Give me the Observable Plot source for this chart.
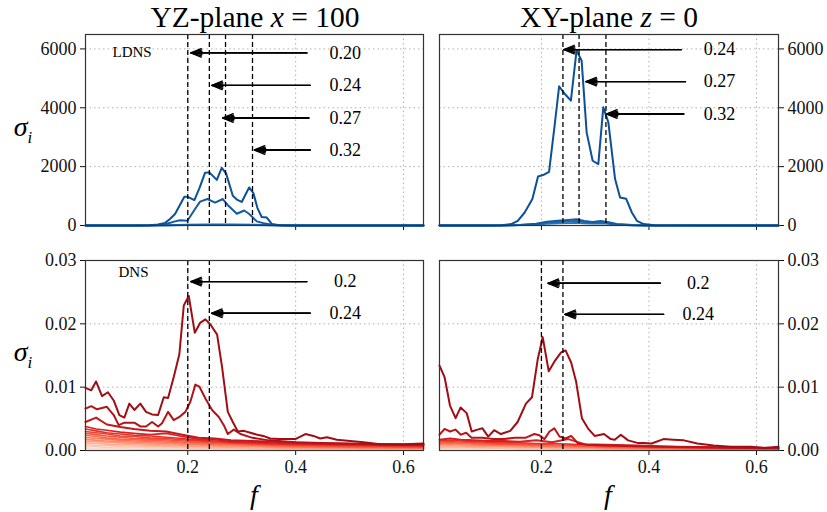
<!DOCTYPE html>
<html><head><meta charset="utf-8">
<script src="https://cdn.jsdelivr.net/npm/d3@7"></script>
<script src="https://cdn.jsdelivr.net/npm/@observablehq/plot@0.6"></script>
<style>
body{margin:0;background:#fff;}
#chart{position:relative;width:827px;height:512px;overflow:hidden;background:#fff;}
#chart svg{position:absolute;left:0;top:0;}
.lbl{position:absolute;font-family:"Liberation Serif",serif;color:#000;white-space:nowrap;line-height:1;}
</style></head><body><div id="chart"></div>
<script>
// ---------- shared axes ----------
const xTicks = [0.2, 0.4, 0.6];
const ldnsYTicks = [0, 2000, 4000, 6000];
const dnsYTicks = [0, 0.01, 0.02, 0.03];

// ---------- LDNS, YZ-plane ----------
const tlF1 = [0.0104, 0.08, 0.11, 0.13, 0.145, 0.158, 0.167, 0.1764, 0.1937, 0.2, 0.2123, 0.222, 0.232, 0.240, 0.2538, 0.263, 0.271, 0.2835, 0.292, 0.300, 0.3137, 0.3217, 0.329, 0.337, 0.3466, 0.356, 0.37, 0.40, 0.637];
const tlS1 = [0, 0, 3, 12, 35, 90, 220, 390, 980, 975, 865, 1290, 1790, 1805, 1550, 1960, 1770, 1010, 870, 800, 1293, 1100, 600, 290, 270, 50, 8, 0, 0];
const tlF2 = [0.0104, 0.10, 0.14, 0.16, 0.1764, 0.1857, 0.1993, 0.2135, 0.2228, 0.2364, 0.2506, 0.265, 0.2753, 0.291, 0.3045, 0.314, 0.328, 0.340, 0.359, 0.38, 0.637];
const tlS2 = [0, 0, 10, 50, 140, 180, 160, 560, 810, 900, 780, 900, 670, 400, 510, 390, 140, 80, 15, 0, 0];
const tlF3 = [0.0104, 0.12, 0.16, 0.20, 0.24, 0.28, 0.32, 0.36, 0.40, 0.637];
const tlS3 = [0, 2, 10, 25, 35, 30, 25, 10, 2, 0];
const tlS4 = [0, 1, 5, 12, 18, 15, 12, 5, 1, 0];
const tlMarkF = [0.20, 0.24, 0.27, 0.32];
const tlArrowY = [5864, 4762, 3653, 2565];
const tlArrowTail = [0.4208, 0.4269, 0.4245, 0.4269];
const tlArrowHead = [0.2056, 0.2445, 0.265, 0.3236];
const tlLabels = ["0.20", "0.24", "0.27", "0.32"];

// ---------- LDNS, XY-plane ----------
const trF1 = [0.0104, 0.10, 0.125, 0.144, 0.156, 0.1688, 0.1832, 0.1937, 0.203, 0.2142, 0.2249, 0.2329, 0.2436, 0.2548, 0.2654, 0.2748, 0.2841, 0.2953, 0.3058, 0.3151, 0.3245, 0.337, 0.3463, 0.3575, 0.3682, 0.3776, 0.39, 0.41, 0.641];
const trS1 = [0, 0, 10, 48, 160, 442, 898, 1667, 1714, 1826, 3450, 4728, 4469, 4241, 5950, 5600, 3163, 2200, 2088, 4014, 3503, 1578, 950, 910, 442, 160, 48, 5, 0];
const trF2 = [0.0104, 0.12, 0.16, 0.19, 0.21, 0.23, 0.25, 0.265, 0.28, 0.295, 0.31, 0.325, 0.34, 0.37, 0.40, 0.641];
const trS2 = [0, 2, 20, 60, 130, 160, 190, 210, 150, 120, 150, 110, 50, 15, 2, 0];
const trS3 = [0, 1, 15, 45, 90, 120, 140, 150, 110, 90, 110, 80, 35, 10, 1, 0];
const trS4 = [0, 1, 8, 25, 50, 70, 80, 90, 70, 60, 70, 50, 20, 5, 0, 0];
const trMarkF = [0.24, 0.27, 0.32];
const trArrowY = [5976, 4888, 3789];
const trArrowTail = [0.4598, 0.4679, 0.4647];
const trArrowHead = [0.2417, 0.2828, 0.3215];
const trLabels = ["0.24", "0.27", "0.32"];

// ---------- DNS, YZ-plane ----------
const blF1 = [0.0104, 0.0211, 0.0299, 0.041, 0.052, 0.0627, 0.0731, 0.0824, 0.0917, 0.101,
  0.112, 0.1226, 0.1338, 0.145, 0.1555, 0.1635, 0.174, 0.1844, 0.1926, 0.2018,
  0.213, 0.2234, 0.2327, 0.242, 0.2544, 0.2637, 0.2742, 0.2835, 0.2928, 0.3039,
  0.316, 0.3286, 0.340, 0.3527, 0.37, 0.39, 0.3995, 0.418, 0.433, 0.4455,
  0.458, 0.4765, 0.501, 0.5258, 0.5568, 0.60, 0.637];
const blS1 = [0.0099, 0.0095, 0.0109, 0.0086, 0.0092, 0.0079, 0.0056, 0.0052, 0.0074, 0.0064,
  0.0074, 0.0061, 0.0057, 0.0056, 0.0084, 0.0083, 0.0116, 0.0152, 0.0229, 0.0244,
  0.0186, 0.0202, 0.0207, 0.0199, 0.0183, 0.0131, 0.0061, 0.0045, 0.0030, 0.0031,
  0.0028, 0.0025, 0.0023, 0.0019, 0.0018, 0.0018, 0.0018, 0.0026, 0.0023, 0.0019,
  0.0021, 0.0017, 0.0015, 0.0013, 0.0010, 0.0010, 0.0011];
const blF2 = [0.0104, 0.0211, 0.0317, 0.050, 0.0627, 0.072, 0.0824, 0.101, 0.112, 0.1226,
  0.1338, 0.145, 0.1523, 0.1635, 0.174, 0.1844, 0.1955, 0.2048, 0.2141, 0.2215,
  0.2327, 0.245, 0.2575, 0.2668, 0.2742, 0.2853, 0.2976, 0.32, 0.35, 0.40,
  0.45, 0.50, 0.55, 0.60, 0.637];
const blS2 = [0.0066, 0.0070, 0.0065, 0.0069, 0.0056, 0.0040, 0.0044, 0.0044, 0.0038, 0.0038,
  0.0045, 0.0038, 0.0043, 0.0061, 0.0048, 0.0053, 0.0061, 0.0077, 0.0104, 0.0101,
  0.0082, 0.0064, 0.0053, 0.0040, 0.0026, 0.0033, 0.0026, 0.0020, 0.0016, 0.0013,
  0.0012, 0.0011, 0.0010, 0.0009, 0.0009];
const blFMinor = [0.0104, 0.03, 0.05, 0.075, 0.10, 0.13, 0.16, 0.19, 0.22, 0.25, 0.28, 0.32, 0.38, 0.45, 0.53, 0.637];
const blS3 = [0.0045, 0.0052, 0.0041, 0.0037, 0.0034, 0.0031, 0.0030, 0.0025, 0.0020, 0.0019, 0.0016, 0.0015, 0.0013, 0.0011, 0.0010, 0.0009];
const blS4 = [0.0038, 0.0034, 0.0032, 0.0029, 0.0027, 0.0025, 0.0027, 0.0022, 0.0018, 0.0017, 0.0014, 0.0013, 0.0011, 0.0010, 0.0009, 0.0008];
const blS5 = [0.0034, 0.0031, 0.0028, 0.0026, 0.0024, 0.0023, 0.0021, 0.0019, 0.0016, 0.0015, 0.0013, 0.0012, 0.0010, 0.0009, 0.0008, 0.0007];
const blS6 = [0.0030, 0.0028, 0.0026, 0.0023, 0.0022, 0.0020, 0.0019, 0.0017, 0.0015, 0.0014, 0.0012, 0.0011, 0.0009, 0.0008, 0.0007, 0.0006];
const blS7 = [0.0027, 0.0025, 0.0023, 0.0021, 0.0019, 0.0018, 0.0017, 0.0015, 0.0013, 0.0012, 0.0011, 0.0010, 0.0008, 0.0007, 0.0006, 0.0005];
const blS8 = [0.0024, 0.0022, 0.0020, 0.0018, 0.0017, 0.0016, 0.0015, 0.0013, 0.0012, 0.0011, 0.0010, 0.0009, 0.0007, 0.0006, 0.0005, 0.0005];
const blS9 = [0.0021, 0.0019, 0.0018, 0.0016, 0.0015, 0.0014, 0.0013, 0.0012, 0.0010, 0.0009, 0.0009, 0.0008, 0.0006, 0.0005, 0.0005, 0.0004];
const blS10 = [0.0018, 0.0016, 0.0015, 0.0014, 0.0013, 0.0012, 0.0011, 0.0010, 0.0009, 0.0008, 0.0007, 0.0007, 0.0005, 0.0005, 0.0004, 0.0004];
const blS11 = [0.0015, 0.0014, 0.0013, 0.0012, 0.0011, 0.0010, 0.0009, 0.0008, 0.0007, 0.0007, 0.0006, 0.0006, 0.0004, 0.0004, 0.0003, 0.0003];
const blS12 = [0.0012, 0.0011, 0.0010, 0.0009, 0.0009, 0.0008, 0.0007, 0.0007, 0.0006, 0.0005, 0.0005, 0.0004, 0.0003, 0.0003, 0.0003, 0.0002];
const blS13 = [0.0009, 0.0008, 0.0008, 0.0007, 0.0007, 0.0006, 0.0006, 0.0005, 0.0004, 0.0004, 0.0004, 0.0003, 0.0003, 0.0002, 0.0002, 0.0002];
const blS14 = [0.0006, 0.0006, 0.0005, 0.0005, 0.0005, 0.0004, 0.0004, 0.0004, 0.0003, 0.0003, 0.0003, 0.0002, 0.0002, 0.0002, 0.0001, 0.0001];
const blS15 = [0.0003, 0.0003, 0.0003, 0.0003, 0.0002, 0.0002, 0.0002, 0.0002, 0.0002, 0.0001, 0.0001, 0.0001, 0.0001, 0.0001, 0.0001, 0.0001];
const blMarkF = [0.2, 0.24];
const blArrowY = [0.02667, 0.02167];
const blArrowTail = [0.4208, 0.4269];
const blArrowHead = [0.2056, 0.2445];
const blLabels = ["0.2", "0.24"];

// ---------- DNS, XY-plane ----------
const brF1 = [0.0104, 0.0198, 0.0299, 0.0404, 0.0497, 0.061, 0.0703, 0.081, 0.0903, 0.101,
  0.112, 0.1245, 0.142, 0.1557, 0.1712, 0.1824, 0.1931, 0.2024, 0.2136, 0.2254,
  0.2366, 0.2449, 0.2553, 0.2647, 0.2753, 0.2865, 0.299, 0.3164, 0.329, 0.3364,
  0.3477, 0.3613, 0.3787, 0.39, 0.405, 0.427, 0.445, 0.465, 0.49, 0.52,
  0.552, 0.59, 0.615, 0.641];
const brS1 = [0.0134, 0.0116, 0.0071, 0.0051, 0.0068, 0.0059, 0.0030, 0.0033, 0.0035, 0.0022,
  0.0032, 0.0026, 0.0031, 0.0045, 0.0074, 0.0084, 0.0144, 0.0179, 0.0125, 0.0142,
  0.0155, 0.0158, 0.0139, 0.0108, 0.0051, 0.0035, 0.0023, 0.0026, 0.0018, 0.0017,
  0.0025, 0.0016, 0.0012, 0.0012, 0.0011, 0.0018, 0.0017, 0.0016, 0.0011, 0.0008,
  0.0006, 0.0006, 0.0004, 0.0006];
const brF2 = [0.0104, 0.0198, 0.030, 0.040, 0.050, 0.06, 0.07, 0.09, 0.11, 0.13,
  0.15, 0.17, 0.187, 0.196, 0.2056, 0.215, 0.224, 0.2336, 0.245, 0.2553,
  0.268, 0.285, 0.32, 0.36, 0.42, 0.50, 0.58, 0.641];
const brS2 = [0.0025, 0.0034, 0.0030, 0.0033, 0.0025, 0.0028, 0.0020, 0.0020, 0.0018, 0.0018,
  0.0020, 0.0020, 0.0026, 0.0024, 0.0018, 0.0030, 0.0035, 0.0022, 0.0019, 0.0023,
  0.0011, 0.0009, 0.0008, 0.0007, 0.0006, 0.0005, 0.0004, 0.0004];
const brFMinor = [0.0104, 0.03, 0.05, 0.075, 0.10, 0.13, 0.16, 0.19, 0.22, 0.25, 0.28, 0.32, 0.38, 0.45, 0.53, 0.641];
const brS3 = [0.0017, 0.0019, 0.0017, 0.0016, 0.0015, 0.0015, 0.0014, 0.0016, 0.0013, 0.0018, 0.0010, 0.0009, 0.0008, 0.0006, 0.0005, 0.0004];
const brS4 = [0.0015, 0.0016, 0.0015, 0.0014, 0.0013, 0.0012, 0.0012, 0.0011, 0.0011, 0.0010, 0.0009, 0.0008, 0.0007, 0.0005, 0.0004, 0.0003];
const brS5 = [0.0013, 0.0014, 0.0013, 0.0012, 0.0011, 0.0010, 0.0010, 0.0009, 0.0009, 0.0008, 0.0007, 0.0006, 0.0005, 0.0004, 0.0003, 0.0003];
const brS6 = [0.0011, 0.0012, 0.0011, 0.0010, 0.0009, 0.0009, 0.0008, 0.0008, 0.0007, 0.0007, 0.0006, 0.0005, 0.0004, 0.0003, 0.0003, 0.0002];
const brS7 = [0.0009, 0.0009, 0.0009, 0.0008, 0.0008, 0.0007, 0.0007, 0.0006, 0.0006, 0.0005, 0.0005, 0.0004, 0.0003, 0.0003, 0.0002, 0.0002];
const brS8 = [0.0007, 0.0007, 0.0007, 0.0006, 0.0006, 0.0006, 0.0005, 0.0005, 0.0005, 0.0004, 0.0004, 0.0003, 0.0003, 0.0002, 0.0002, 0.0001];
const brS9 = [0.0005, 0.0005, 0.0005, 0.0005, 0.0004, 0.0004, 0.0004, 0.0004, 0.0003, 0.0003, 0.0003, 0.0002, 0.0002, 0.0002, 0.0001, 0.0001];
const brS10 = [0.0003, 0.0003, 0.0003, 0.0003, 0.0003, 0.0003, 0.0002, 0.0002, 0.0002, 0.0002, 0.0002, 0.0001, 0.0001, 0.0001, 0.0001, 0.0001];
const brMarkF = [0.2, 0.24];
const brArrowY = [0.0264, 0.0215];
const brArrowTail = [0.4211, 0.4273];
const brArrowHead = [0.2124, 0.2436];
const brLabels = ["0.2", "0.24"];

// ---------- drawing ----------
const W = 827, H = 512;
const FONT = "'Liberation Serif', 'Times New Roman', serif";
const chart = document.getElementById("chart");

function panel(cfg) {
  const n = cfg.series.length;
  const col = i => cfg.interp(0.88 - i * (cfg.span / Math.max(1, n - 1)));
  const lines = [];
  for (let i = n - 1; i >= 0; i--) {
    const s = cfg.series[i];
    const rows = s.f.map((f, j) => ({f, v: s.v[j]}));
    lines.push(Plot.line(rows, {x: "f", y: "v", stroke: col(i), strokeWidth: i < 3 ? 2 : 1.6}));
  }
  const ann = cfg.arrowY.map((y, i) => ({y, tail: cfg.tail[i], head: cfg.head[i], label: cfg.labels[i]}));
  const arrowOpts = {x1: "tail", y1: "y", x2: "head", y2: "y", stroke: "#000", strokeWidth: 1.4, headLength: 12};
  const svg = Plot.plot({
    width: W, height: H,
    marginLeft: cfg.m[0], marginRight: cfg.m[1], marginTop: cfg.m[2], marginBottom: cfg.m[3],
    style: {background: "transparent", overflow: "visible", fontFamily: FONT, fontSize: "18px", color: "#111"},
    x: {domain: cfg.xDomain, ticks: xTicks, tickFormat: cfg.xLabels ? d3.format(".1f") : () => "", tickSize: 5, tickPadding: 5, label: null},
    y: {domain: cfg.yDomain, ticks: cfg.yTicks, tickFormat: cfg.yFmt, tickSize: 5, tickPadding: 4, label: null, axis: cfg.yAxis},
    marks: [
      Plot.ruleX(xTicks, {stroke: "#b0b0b0", strokeWidth: 1, strokeDasharray: "1.5,3"}),
      Plot.ruleY(cfg.yTicks, {stroke: "#b0b0b0", strokeWidth: 1, strokeDasharray: "1.5,3"}),
      ...lines,
      Plot.ruleX(cfg.markF, {stroke: "#000", strokeWidth: 1.3, strokeDasharray: "5,3"}),
      Plot.arrow(ann, {...arrowOpts, headAngle: 45}),
      Plot.arrow(ann, {...arrowOpts, headAngle: 30}),
      Plot.arrow(ann, {...arrowOpts, headAngle: 15}),
      Plot.text(ann, {x: () => cfg.labelX, y: "y", text: "label", fontSize: 18, textAnchor: "middle", fill: "#000", fontFamily: FONT}),
      cfg.tag ? Plot.text([cfg.tag], {text: d => d, frameAnchor: "top-left", dx: cfg.tagDx, dy: cfg.tagDy, fontSize: 15, fill: "#000", fontFamily: FONT}) : null,
      Plot.frame({stroke: "#333", strokeWidth: 1.2})
    ]
  });
  chart.appendChild(svg);
}

panel({
  series: [{f: tlF1, v: tlS1}, {f: tlF2, v: tlS2}, {f: tlF3, v: tlS3}, {f: tlF3, v: tlS4}],
  interp: d3.interpolateBlues, span: 0.12,
  m: [85, W - 423, 34, H - 225], xDomain: [0.0104, 0.637], yDomain: [0, 6490],
  yTicks: ldnsYTicks, yFmt: d => String(d), yAxis: "left", xLabels: false,
  markF: tlMarkF, arrowY: tlArrowY, tail: tlArrowTail, head: tlArrowHead, labels: tlLabels, labelX: 0.4918,
  tag: "LDNS", tagDx: 27, tagDy: 12
});
panel({
  series: [{f: trF1, v: trS1}, {f: trF2, v: trS2}, {f: trF2, v: trS3}, {f: trF2, v: trS4}],
  interp: d3.interpolateBlues, span: 0.15,
  m: [439, W - 778, 34, H - 225], xDomain: [0.0104, 0.641], yDomain: [0, 6490],
  yTicks: ldnsYTicks, yFmt: d => String(d), yAxis: "right", xLabels: false,
  markF: trMarkF, arrowY: trArrowY, tail: trArrowTail, head: trArrowHead, labels: trLabels, labelX: 0.5314
});
panel({
  series: [{f: blF1, v: blS1}, {f: blF2, v: blS2}, {f: blFMinor, v: blS3}, {f: blFMinor, v: blS4}, {f: blFMinor, v: blS5},
           {f: blFMinor, v: blS6}, {f: blFMinor, v: blS7}, {f: blFMinor, v: blS8}, {f: blFMinor, v: blS9}, {f: blFMinor, v: blS10},
           {f: blFMinor, v: blS11}, {f: blFMinor, v: blS12}, {f: blFMinor, v: blS13}, {f: blFMinor, v: blS14}, {f: blFMinor, v: blS15}],
  interp: d3.interpolateReds, span: 0.75,
  m: [85, W - 423, 260, H - 450], xDomain: [0.0104, 0.637], yDomain: [0, 0.03],
  yTicks: dnsYTicks, yFmt: d3.format(".2f"), yAxis: "left", xLabels: true,
  markF: blMarkF, arrowY: blArrowY, tail: blArrowTail, head: blArrowHead, labels: blLabels, labelX: 0.4918,
  tag: "DNS", tagDx: 33, tagDy: 6
});
panel({
  series: [{f: brF1, v: brS1}, {f: brF2, v: brS2}, {f: brFMinor, v: brS3}, {f: brFMinor, v: brS4}, {f: brFMinor, v: brS5},
           {f: brFMinor, v: brS6}, {f: brFMinor, v: brS7}, {f: brFMinor, v: brS8}, {f: brFMinor, v: brS9}, {f: brFMinor, v: brS10}],
  interp: d3.interpolateReds, span: 0.7,
  m: [439, W - 778, 260, H - 450], xDomain: [0.0104, 0.641], yDomain: [0, 0.03],
  yTicks: dnsYTicks, yFmt: d3.format(".2f"), yAxis: "right", xLabels: true,
  markF: brMarkF, arrowY: brArrowY, tail: brArrowTail, head: brArrowHead, labels: brLabels, labelX: 0.4915
});

// ---------- titles & axis labels ----------
function label(html, x, y, size, extra) {
  const d = document.createElement("div");
  d.className = "lbl";
  d.innerHTML = html;
  d.style.left = x + "px";
  d.style.top = y + "px";
  d.style.fontSize = size + "px";
  d.style.transform = "translate(-50%, -50%)" + (extra || "");
  chart.appendChild(d);
}
label("YZ-plane <i>x</i> = 100", 255, 18, 29.5);
label("XY-plane <i>z</i> = 0", 609, 18, 29.5);
label("<i>σ<sub style='font-size:0.6em'>i</sub></i>", 23, 130, 28);
label("<i>σ<sub style='font-size:0.6em'>i</sub></i>", 23, 355, 28);
label("<i>f</i>", 254, 495, 28);
label("<i>f</i>", 608, 495, 28);
</script></body></html>
